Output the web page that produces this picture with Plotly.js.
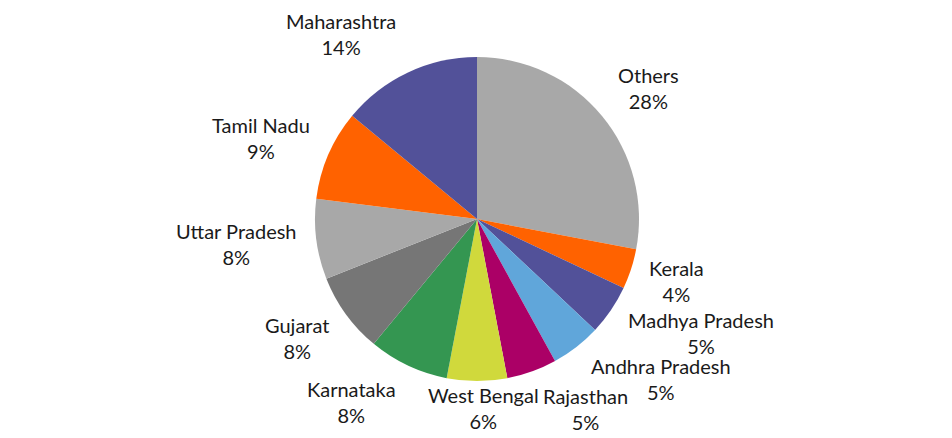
<!DOCTYPE html>
<html>
<head>
<meta charset="utf-8">
<script src="https://cdn.plot.ly/plotly-3.0.1.min.js"></script>
<style>html,body{margin:0;padding:0;background:#fff;}#chart{width:952px;height:438px;}</style>
</head>
<body>
<div id="chart"></div>
<script>
const states = ["Others", "Kerala", "Madhya Pradesh", "Andhra Pradesh", "Rajasthan", "West Bengal", "Karnataka", "Gujarat", "Uttar Pradesh", "Tamil Nadu", "Maharashtra"];
const shares = [28, 4, 5, 5, 5, 6, 8, 8, 8, 9, 14];
const colors = ["#A8A8A8", "#FF6200", "#525199", "#60A6DA", "#AB0066", "#D0D93C", "#349651", "#767676", "#A8A8A8", "#FF6200", "#525199"];

const W = 952, H = 438;
const cx = 477, cy = 219, r = 162, gap = 12;
const dom = {x: [(cx - r) / W, (cx + r) / W], y: [1 - (cy + r) / H, 1 - (cy - r) / H]};
const FONT = "Lato, 'Open Sans', sans-serif";

const total = shares.reduce((a, b) => a + b, 0);
let cum = 0;
const annotations = states.map((s, i) => {
  const mid = (cum + shares[i] / 2) / total * 2 * Math.PI;
  cum += shares[i];
  const sn = Math.sin(mid), cs = Math.cos(mid);
  const R = r + gap;
  const px = cx + R * sn, py = cy - R * cs;
  const side = sn > 0.2 ? 1 : (sn < -0.2 ? -1 : 0);
  const xanchor = side > 0 ? "left" : (side < 0 ? "right" : "center");
  const xshift = side !== 0 ? 5 * side : 6;
  let yshift = cs > 0 ? 31 * cs : 28 * cs;
  if (side === 0 && cs < 0) yshift = -15;
  return {
    xref: "paper", yref: "paper",
    x: px / W, y: 1 - py / H,
    xanchor: xanchor, yanchor: "middle",
    xshift: xshift,
    yshift: yshift,
    text: s + "<br>" + Math.round(shares[i] / total * 100) + "%",
    showarrow: false,
    align: "center",
    font: {family: FONT, size: 20, color: "#1a1a1a"}
  };
});

Plotly.newPlot("chart", [{
  type: "pie",
  labels: states,
  values: shares,
  sort: false,
  direction: "clockwise",
  rotation: 0,
  marker: {colors: colors, line: {width: 0}},
  textinfo: "none",
  automargin: false,
  showlegend: false,
  hoverinfo: "label+percent",
  domain: dom
}], {
  width: W,
  height: H,
  margin: {l: 0, r: 0, t: 0, b: 0},
  paper_bgcolor: "#fff",
  showlegend: false,
  annotations: annotations
}, {displayModeBar: false, staticPlot: true});
</script>
</body>
</html>
